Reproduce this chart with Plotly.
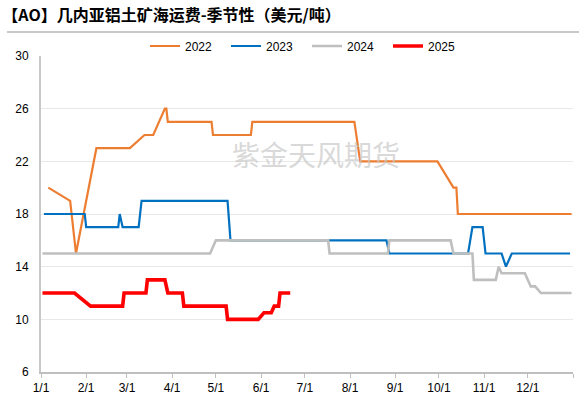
import plotly.graph_objects as go

# ---- data (month-day on a common seasonal axis) ----
d2022 = ["01-06", "01-21", "01-25", "02-08", "03-03", "03-13", "03-19", "03-27", "03-28", "03-29",
         "04-28", "04-29", "05-25", "05-26", "08-04", "08-08", "09-30", "10-11", "10-13", "10-14", "12-31"]
v2022 = [20, 19, 15, 23, 23, 24, 24, 26, 26, 25,
         25, 24, 24, 25, 25, 22, 22, 20, 20, 18, 18]

d2023 = ["01-03", "01-31", "02-01", "02-23", "02-24", "02-26", "03-09", "03-11", "05-09", "05-11",
         "08-26", "08-28", "10-21", "10-24", "10-31", "11-02", "11-13", "11-16", "11-20", "12-30"]
v2023 = [18, 18, 17, 17, 18, 17, 17, 19, 19, 16,
         16, 15, 15, 17, 17, 15, 15, 14, 15, 15]

d2024 = ["01-02", "04-27", "05-01", "07-17", "07-18", "08-27", "08-28", "10-09", "10-11", "10-24",
         "10-25", "11-09", "11-11", "11-13", "11-29", "12-03", "12-06", "12-10", "12-31"]
v2024 = [15, 15, 16, 16, 15, 15, 16, 16, 15, 15,
         13, 13, 14, 13.5, 13.5, 12.5, 12.5, 12, 12]

d2025 = ["01-02", "01-24", "02-04", "02-26", "02-27", "03-14", "03-15", "03-27", "03-29", "04-08",
         "04-09", "05-08", "05-09", "05-30", "06-03", "06-08", "06-10", "06-13", "06-14", "06-21"]
v2025 = [12, 12, 11, 11, 12, 12, 13, 13, 12, 12,
         11, 11, 10, 10, 10.5, 10.5, 11, 11, 12, 12]

month_ticks = ["01-01", "02-01", "03-01", "04-01", "05-01", "06-01",
               "07-01", "08-01", "09-01", "10-01", "11-01", "12-01"]
month_labels = ["1/1", "2/1", "3/1", "4/1", "5/1", "6/1",
                "7/1", "8/1", "9/1", "10/1", "11/1", "12/1"]
y_ticks = [6, 10, 14, 18, 22, 26, 30]

BASE = "2022-"


def to_dates(md):
    return [BASE + s for s in md]


series = [
    ("2022", d2022, v2022, "#ED7D31", 2.2),
    ("2023", d2023, v2023, "#0070C0", 2.2),
    ("2024", d2024, v2024, "#BFBFBF", 2.6),
    ("2025", d2025, v2025, "#FF0000", 3.6),
]

fig = go.Figure()
for name, d, v, c, w in series:
    fig.add_trace(go.Scatter(x=to_dates(d), y=v, mode="lines", name=name,
                             line=dict(color=c, width=w)))

font_fam = "Liberation Sans, Arial, sans-serif"

fig.update_layout(
    width=579, height=396,
    margin=dict(l=41, r=6, t=56, b=24),
    paper_bgcolor="white", plot_bgcolor="white",
    font=dict(family=font_fam, size=12, color="#000000"),
    showlegend=True,
    legend=dict(orientation="h", x=0.5, xanchor="center", y=1.0316, yanchor="middle",
                font=dict(size=12, family=font_fam), bgcolor="rgba(0,0,0,0)",
                traceorder="normal", entrywidth=36, entrywidthmode="pixels"),
    title=dict(text="【AO】几内亚铝土矿海运费-季节性（美元/吨）",
               x=0.004, xanchor="left", y=0.962, yanchor="middle",
               font=dict(family="Noto Sans CJK SC", size=16, color="#000000",
                         weight="bold")),
    xaxis=dict(type="date", range=[BASE + "01-01", "2023-01-01"],
               tickvals=to_dates(month_ticks) + ["2023-01-01"],
               ticktext=month_labels + [""],
               showgrid=False, showline=True, linecolor="#BFBFBF", linewidth=1.5,
               ticks="outside", ticklen=4, tickcolor="#BFBFBF", automargin=False,
               tickfont=dict(size=12, family=font_fam), zeroline=False),
    yaxis=dict(range=[6, 30], tickvals=y_ticks, showgrid=True, gridcolor="#E8E8E8",
               gridwidth=1, showline=True, linecolor="#C8C8C8", linewidth=2,
               ticks="", ticklabelstandoff=8, automargin=False,
               tickfont=dict(size=12, family=font_fam), zeroline=False),
    shapes=[dict(type="line", xref="paper", yref="paper", x0=-0.064, x1=1.02,
                 y0=1.076, y1=1.076, line=dict(color="#C8C8C8", width=2))],
    annotations=[dict(text="紫金天风期货", xref="paper", yref="paper", x=0.517, y=0.69,
                      xanchor="center", yanchor="middle",
                      showarrow=False, font=dict(family="Noto Sans CJK SC", size=28,
                                                 color="rgba(200,200,200,0.7)"))],
)

fig.write_html("out.html", config={"displayModeBar": False},
               post_script="document.body.style.margin='0';")
